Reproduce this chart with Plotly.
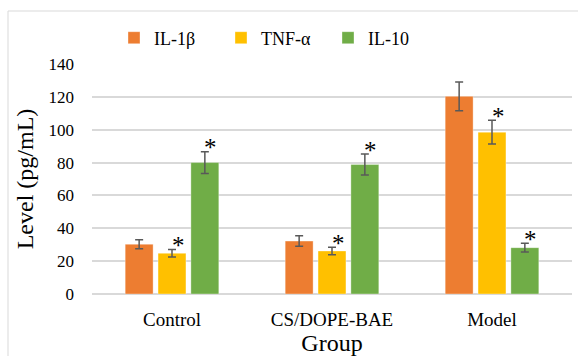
import plotly.graph_objects as go

groups = ["Control", "CS/DOPE-BAE", "Model"]
series_names = ["IL-1β", "TNF-α", "IL-10"]
il1b = [30.3, 32.2, 120.3]
il1b_err = [2.7, 3.2, 8.7]
tnf = [24.8, 26.2, 98.5]
tnf_err = [2.3, 2.3, 7.2]
il10 = [80.0, 78.8, 28.2]
il10_err = [6.6, 6.4, 2.7]
il1b_sig = [False, False, False]
tnf_sig = [True, True, True]
il10_sig = [True, True, True]
colors = ["#ED7D31", "#FFC000", "#70AD47"]
y_ticks = [0, 20, 40, 60, 80, 100, 120, 140]

W, H = 578, 356
ML, MR, MT, MB = 92, 6, 64, 62
pw = W - ML - MR
ph = H - MT - MB

font = "Liberation Serif"

fig = go.Figure()
vals = [il1b, tnf, il10]
errs = [il1b_err, tnf_err, il10_err]
sigs = [il1b_sig, tnf_sig, il10_sig]
for name, v, e, c in zip(series_names, vals, errs, colors):
    fig.add_trace(go.Bar(
        name=name, x=groups, y=v,
        marker=dict(color=c, line=dict(color="rgba(255,255,255,0.35)", width=1)),
        error_y=dict(type="data", array=e, visible=True, color="#595959",
                     thickness=1.5, width=4),
    ))

bargap = 0.384
bargroupgap = 0.15
cat_w = pw / len(groups)
slot = cat_w * (1 - bargap) / 3
anns = []
for si, (v, e, s) in enumerate(zip(vals, errs, sigs)):
    off = (si - 1) * slot
    for gi, g in enumerate(groups):
        if s[gi]:
            anns.append(dict(x=g, y=v[gi] + e[gi], xref="x", yref="y",
                             text="*", showarrow=False,
                             xshift=off + 6, yshift=4, yanchor="middle",
                             font=dict(family=font, size=25, color="#000000")))

fig.update_layout(
    width=W, height=H,
    margin=dict(l=ML, r=MR, t=MT, b=MB),
    paper_bgcolor="white", plot_bgcolor="white",
    barmode="group", bargap=bargap, bargroupgap=bargroupgap,
    font=dict(family=font, size=17, color="#000000"),
    showlegend=True,
    legend=dict(orientation="h", x=(114 - ML) / pw, xanchor="left",
                y=(H - MB - 38) / ph, yanchor="middle",
                font=dict(family=font, size=18, color="#000000"),
                entrywidth=62, entrywidthmode="pixels",
                itemclick=False, bgcolor="rgba(0,0,0,0)"),
    xaxis=dict(title=dict(text="Group", font=dict(family=font, size=24, color="#000000"), standoff=0),
               showgrid=False, showline=False, ticks="", ticklabelstandoff=12,
               tickfont=dict(family=font, size=19, color="#000000"), fixedrange=True),
    yaxis=dict(title=dict(text="Level (pg/mL)", font=dict(family=font, size=24, color="#000000"), standoff=8),
               range=[0, 140], tickvals=y_ticks, showgrid=True,
               gridcolor="#D9D9D9", gridwidth=1.5, zeroline=True,
               zerolinecolor="#D9D9D9", zerolinewidth=2, showline=False,
               ticks="", ticklabelstandoff=17,
               tickfont=dict(family=font, size=17, color="#000000"), fixedrange=True),
    annotations=anns,
    shapes=[dict(type="rect", xref="paper", yref="paper",
                 x0=(8 - ML) / pw, x1=(W + 5 - ML) / pw,
                 y0=(H - MB - (H + 5)) / ph, y1=(H - MB - 11) / ph,
                 line=dict(color="#D9D9D9", width=1), layer="below")],
)

fig.write_html("out.html")
